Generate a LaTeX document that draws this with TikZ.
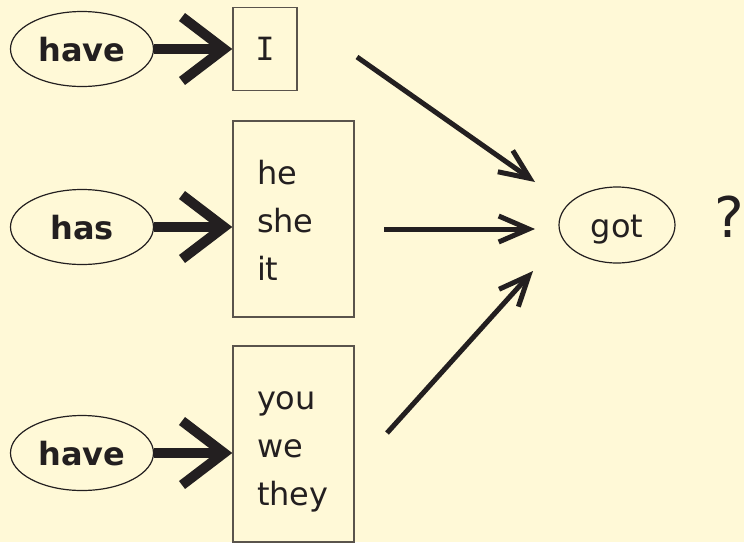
\documentclass[tikz,border=0pt]{standalone}
\usepackage{fontspec}
\setmainfont{DejaVu Sans}
\newfontfamily\graziato{DejaVu Sans Mono}
\usepackage{xcolor}
\usetikzlibrary{arrows.meta, positioning, shapes.geometric}
\definecolor{sfondo}{HTML}{FFF9D7}
\definecolor{inchiostro}{HTML}{231F20}
\definecolor{bordo}{HTML}{5A544C}
\newcommand{\riga}{\rule[-9pt]{0pt}{45pt}}
\tikzset{
    verbo/.style={ellipse, draw=inchiostro, line width=1.2pt, minimum width=143pt, minimum height=75pt, text height=24pt, text depth=0pt, font=\fontsize{32}{48}\selectfont\bfseries}, % ausiliare
    esito/.style={ellipse, draw=inchiostro, line width=1.2pt, minimum width=116pt, minimum height=76pt, text height=24pt, text depth=0pt, font=\fontsize{32}{48}\selectfont}, % participio
    scatola/.style={rectangle, draw=bordo, line width=1.5pt, minimum width=64pt, minimum height=83pt, font=\fontsize{32}{48}\selectfont},
    elenco/.style={rectangle, draw=bordo, line width=1.5pt, text width=73pt, align=left, inner xsep=24pt, inner ysep=0pt, minimum height=196pt, font=\fontsize{32}{48}\selectfont},
    grande/.style={draw=inchiostro, line width=10pt, -{Straight Barb[sharp, length=42pt, width=64pt]}},
    sottile/.style={draw=inchiostro, line width=5pt, -{Straight Barb[sharp, length=30pt, width=26pt]}},
}

\begin{document}
\begin{tikzpicture}[x=1pt, y=-1pt, node distance=2cm, on grid, text=inchiostro]
                \fill[sfondo] (0,0) rectangle (744,542);
                \useasboundingbox (0,0) rectangle (744,542);

                % Ausiliari
                \node[verbo] (v1) at (82,49) {have};
                \node[verbo] (v2) [below=178pt of v1] {has};
                \node[verbo] (v3) [below=226pt of v2] {have};

                % Pronomi
                \node[scatola] (p1) [right=183pt of v1] {\graziato I};
                \node[elenco] (p2) [right=211.5pt of v2, yshift=8pt] {\riga he\\she\\it\riga};
                \node[elenco] (p3) [right=211.5pt of v3, yshift=9pt] {\riga you\\we\\they\riga};

                % Participio
                \node[esito] (got) at (617,225) {got};
                \node[font=\fontsize{56}{60}\selectfont, anchor=base west, inner sep=0pt] (domanda) at (714,237) {?};

                % Estremi delle frecce
                \coordinate (a1) at (357,57);
                \coordinate (b1) at (535,182);
                \coordinate (a2) at (384,229);
                \coordinate (b2) at (535,229);
                \coordinate (a3) at (387,433);
                \coordinate (b3) at (533,271);

                % Frecce
                \draw[grande] (v1) -- (p1);
                \draw[grande] (v2) -- (v2 -| p2.west);
                \draw[grande] (v3) -- (v3 -| p3.west);
                \draw[sottile] (a1) -- (b1);
                \draw[sottile] (a2) -- (b2);
                \draw[sottile] (a3) -- (b3);
            \end{tikzpicture}
\end{document}
